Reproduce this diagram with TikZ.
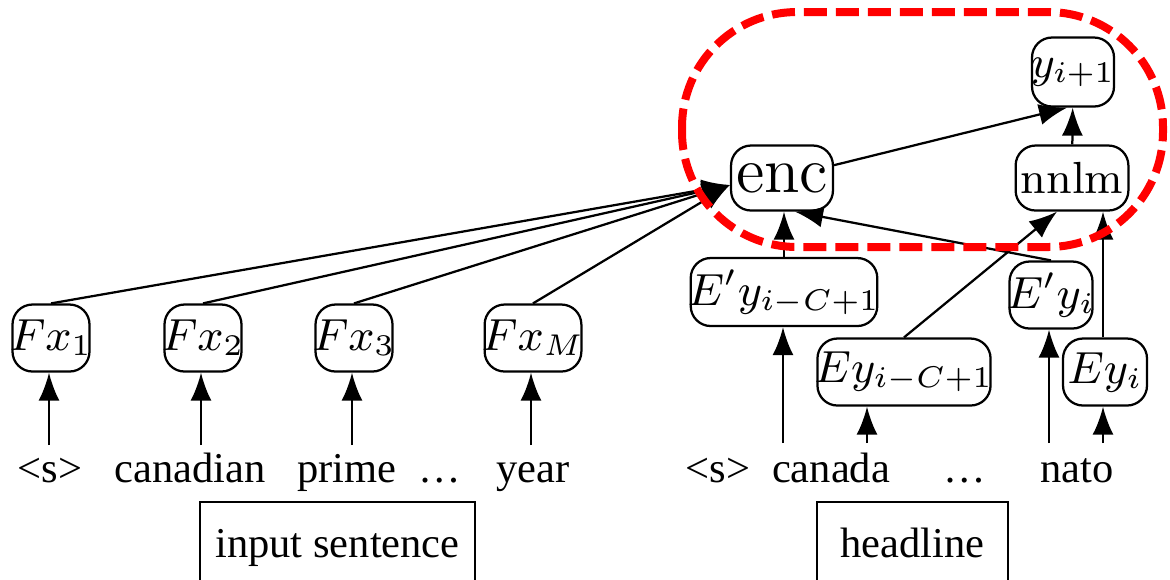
\documentclass[tikz,border=0pt]{standalone}
\usepackage{fontspec}
\newfontfamily\wordfont{Liberation Serif}
\usetikzlibrary{arrows.meta}

\begin{document}
\begin{tikzpicture}[x=0.2pt, y=-0.2pt, >={Latex[length=5.6pt,width=4.2pt]},
  box/.style={draw, rounded corners=4pt, line width=0.45pt, inner xsep=-0.6pt,
    inner ysep=0.6pt, minimum height=13.4pt, font=\fontsize{9.2}{11}\selectfont},
  word/.style={anchor=base, inner sep=0pt, font=\wordfont\fontsize{8.5}{10}\selectfont},
  tagbox/.style={draw, line width=0.45pt, anchor=base, inner sep=0pt,
    text height=11pt, text depth=6.6pt, font=\wordfont\fontsize{8.5}{10}\selectfont},
  link/.style={->, line width=0.45pt}]

\useasboundingbox (0,0) rectangle (1170,579);

% Input side
\node[box, minimum width=14.8pt] (fx1) at (51,338) {$Fx_1$};
\node[box, minimum width=14.8pt] (fx2) at (203,338) {$Fx_2$};
\node[box, minimum width=14.8pt] (fx3) at (354,338) {$Fx_3$};
\node[box, minimum width=16.6pt] (fxm) at (533,338) {$Fx_M$};

\node[word] (w1) at (50,482) {<s>};
\node[word] (w2) at (190,482) {canadian};
\node[word] (w3) at (347,482) {prime};
\node[word] (w4) at (440,482) {…};
\node[word] (w5) at (533,482) {year};

\node[tagbox, minimum width=55pt] (insent) at (337.5,557) {input sentence};

% Encoder and language model
\node[box, inner xsep=1pt, minimum width=20.2pt, minimum height=13pt, font=\fontsize{13}{15}\selectfont] (enc) at (782,178) {enc};
\node[box, inner xsep=1pt, minimum width=20.6pt, minimum height=13pt, font=\fontsize{9}{11}\selectfont] (nnlm) at (1072,178) {nnlm};
\node[box, minimum width=16.4pt, minimum height=13.8pt] (yip) at (1073,72) {$y_{i+1}$};

% Headline side
\node[box, minimum width=35.2pt, minimum height=13.6pt] (epyc) at (784,292) {$E'y_{i-C+1}$};
\node[box, minimum width=34.6pt] (eyc) at (904,372) {$Ey_{i-C+1}$};
\node[box, minimum width=16.6pt] (epyi) at (1051,295) {$E'y_i$};
\node[box, minimum width=16.8pt] (eyi) at (1105,372) {$Ey_i$};

\node[word] (h1) at (718,482) {<s>};
\node[word] (h2) at (831,482) {canada};
\node[word] (h3) at (965,482) {…};
\node[word] (h4) at (1077,482) {nato};

\node[tagbox, minimum width=38.2pt] (hline) at (912.5,557) {headline};

% Arrow feet
\coordinate (s1) at (49,445);
\coordinate (s2) at (201,445);
\coordinate (s3) at (352,445);
\coordinate (s4) at (531,445);
\coordinate (r1) at (783,443);
\coordinate (r2) at (867,443);
\coordinate (r3) at (1049,443);
\coordinate (r4) at (1103,443);
\coordinate (encin) at ([yshift=-1.4pt]enc.west);

% Arrows
\draw[link] (s1) -- (s1 |- fx1.south);
\draw[link] (s2) -- (s2 |- fx2.south);
\draw[link] (s3) -- (s3 |- fx3.south);
\draw[link] (s4) -- (s4 |- fxm.south);
\draw[link] (fx1.north) -- (encin);
\draw[link] (fx2.north) -- (encin);
\draw[link] (fx3.north) -- (encin);
\draw[link] (fxm.north) -- (encin);

\draw[link] (r1) -- (r1 |- epyc.south);
\draw[link] (r2) -- (r2 |- eyc.south);
\draw[link] (r3) -- (r3 |- epyi.south);
\draw[link] (r4) -- (r4 |- eyi.south);

\draw[link] (epyc.north) -- (epyc.north |- enc.south);
\draw[link] (epyi.north) -- ([xshift=2.6pt]enc.south);
\draw[link] (eyc.north) -- ([xshift=-3pt]nnlm.south);
\draw[link] (r4 |- eyi.north) -- (r4 |- nnlm.south);
\draw[link] (nnlm) -- (yip);
\draw[link] (enc) -- ([xshift=-1.2pt]yip.south);

% Highlight
\draw[red, line width=1.6pt, dash pattern=on 4.6pt off 1.8pt, rounded corners=23pt]
  (682,12) rectangle (1163,247);

\end{tikzpicture}
\end{document}
